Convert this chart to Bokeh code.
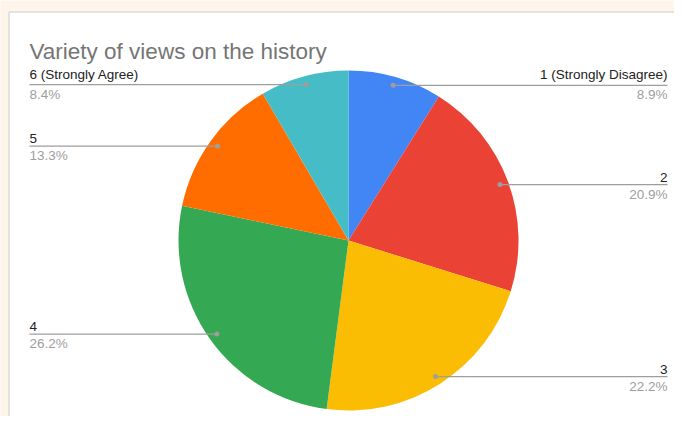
import math
from bokeh.plotting import figure
from bokeh.models import Range1d, ColumnDataSource
from bokeh.embed import file_html
from bokeh.resources import INLINE
from bokeh.core.properties import value

TITLE = "Variety of views on the history"
categories = ["1 (Strongly Disagree)", "2", "3", "4", "5", "6 (Strongly Agree)"]
shares = [8.9, 20.9, 22.2, 26.2, 13.3, 8.4]
pct_labels = ["8.9%", "20.9%", "22.2%", "26.2%", "13.3%", "8.4%"]
colors = ["#4285F4", "#EA4335", "#FBBC04", "#34A853", "#FF6D01", "#46BDC6"]

FONT = "Liberation Sans"
W, H = 674, 416


def Y(py):
    # picture pixel row -> data y
    return 424 - py


p = figure(width=W, height=H, x_range=Range1d(0, W), y_range=Range1d(424 - H, 424),
           output_backend="svg", toolbar_location=None, min_border=0,
           x_axis_location=None, y_axis_location=None)
p.grid.visible = False
p.outline_line_color = None
p.background_fill_color = "#fdf4ea"
p.border_fill_color = "#fdf4ea"

# chart card
p.quad(left=[8.5], right=[720], bottom=[Y(480)], top=[Y(11.5)],
       fill_color="white", line_color="#cccccc", line_width=1)

# title
p.text(x=[29], y=[Y(51)], text=[TITLE], text_font=value(FONT), text_font_size="22.5px",
       text_color="#757575", text_baseline="alphabetic", text_align="left")

cx, cy, r = 348, Y(240), 170
total = sum(shares)
starts, ends, mids = [], [], []
acc = 0.0
for v in shares:
    f0 = acc / total
    acc += v
    f1 = acc / total
    starts.append(math.pi / 2 - f0 * 2 * math.pi)
    ends.append(math.pi / 2 - f1 * 2 * math.pi)
    mids.append(math.pi / 2 - (f0 + f1) / 2 * 2 * math.pi)

src = ColumnDataSource(dict(start=starts, end=ends, color=colors))
p.wedge(x=cx, y=cy, radius=r, start_angle="start", end_angle="end",
        direction="clock", fill_color="color", line_color=None, source=src)

d = 0.95 * r
dot_x = [cx + d * math.cos(a) for a in mids]
dot_y = [cy + d * math.sin(a) for a in mids]

lx0, lx1, ly = [], [], []
rx, ry, rname, rpct = [], [], [], []
lxs, lys, lname, lpct = [], [], [], []
for i in range(len(shares)):
    if dot_x[i] >= cx:
        lx0.append(dot_x[i]); lx1.append(667); ly.append(dot_y[i])
        rx.append(667); ry.append(dot_y[i]); rname.append(categories[i]); rpct.append(pct_labels[i])
    else:
        lx0.append(29); lx1.append(dot_x[i]); ly.append(dot_y[i])
        lxs.append(29); lys.append(dot_y[i]); lname.append(categories[i]); lpct.append(pct_labels[i])

p.segment(x0=lx0, y0=ly, x1=lx1, y1=ly, line_color="#9e9e9e", line_width=1.2)
p.scatter(x=dot_x, y=dot_y, size=5, fill_color="#9e9e9e", line_color=None)

for xs, ys, names, pcts, align in ((rx, ry, rname, rpct, "right"), (lxs, lys, lname, lpct, "left")):
    p.text(x=xs, y=[y + 3 for y in ys], text=names, text_font=value(FONT), text_font_size="13.5px",
           text_color="#222222", text_baseline="bottom", text_align=align)
    p.text(x=xs, y=[y - 2 for y in ys], text=pcts, text_font=value(FONT), text_font_size="13.5px",
           text_color="#9e9e9e", text_baseline="top", text_align=align)

open("out.html", "w").write(file_html(p, INLINE))
